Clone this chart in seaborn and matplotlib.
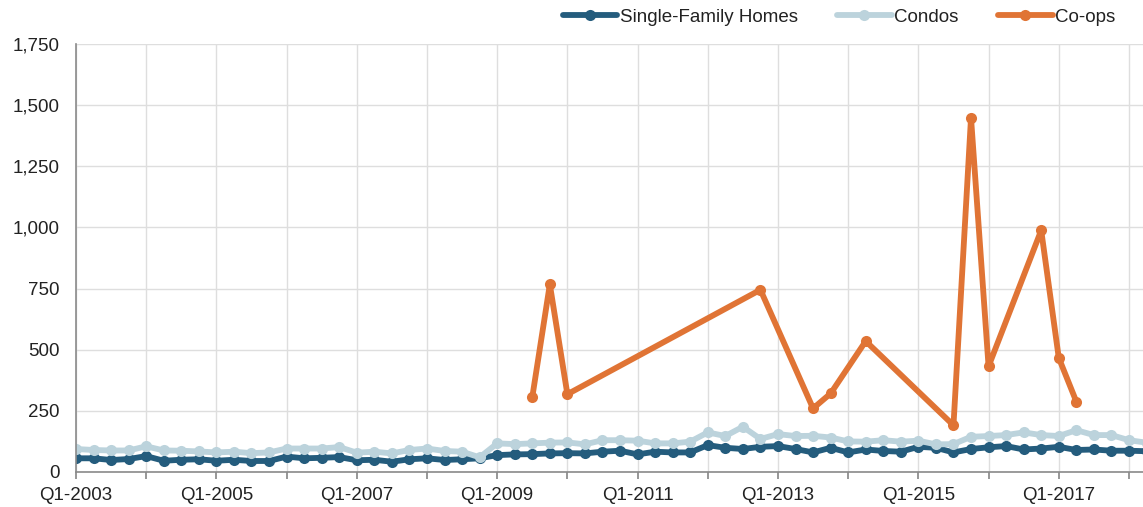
import numpy as np
import pandas as pd
import seaborn as sns
import matplotlib.pyplot as plt

sns.set_theme(style="white")
plt.rcParams['font.family'] = ['Liberation Sans', 'DejaVu Sans']

# quarters Q1-2003 .. Q2-2018
quarters = [f"Q{q}-{y}" for y in range(2003, 2019) for q in range(1, 5)][:62]

single_family = [56, 56, 49, 53, 65, 46, 50, 52, 46, 50, 45, 45, 63, 56, 58, 61,
                 48, 50, 42, 52, 56, 49, 52, 56, 69, 72, 73, 76, 77, 76, 83, 87,
                 72, 83, 80, 80, 110, 99, 94, 103, 106, 94, 80, 99, 80, 92, 86, 83,
                 103, 99, 80, 94, 101, 106, 92, 96, 103, 90, 92, 87, 87, 85]

condos = [94, 90, 88, 88, 105, 88, 87, 84, 80, 83, 77, 80, 96, 96, 96, 102,
          79, 83, 76, 90, 96, 86, 83, 60, 117, 114, 117, 120, 121, 113, 130, 130,
          128, 117, 117, 124, 162, 147, 185, 135, 155, 147, 148, 141, 125, 124, 130, 124,
          128, 113, 114, 144, 147, 151, 162, 151, 147, 171, 151, 151, 130, 120]

# co-ops only reported in some quarters
coops_quarters = ["Q3-2009", "Q4-2009", "Q1-2010", "Q4-2012", "Q3-2013", "Q4-2013",
                  "Q2-2014", "Q3-2015", "Q4-2015", "Q1-2016", "Q4-2016", "Q1-2017", "Q2-2017"]
coops = [306, 767, 318, 745, 260, 321, 535, 191, 1448, 432, 988, 467, 288]

df = pd.DataFrame({"idx": range(len(quarters)), "quarter": quarters,
                   "Single-Family Homes": single_family, "Condos": condos})
co = pd.DataFrame({"quarter": coops_quarters, "Co-ops": coops})
co["idx"] = co["quarter"].map({q: i for i, q in enumerate(quarters)})

colors = {"Single-Family Homes": "#245c7d", "Condos": "#bcd3dc", "Co-ops": "#e07435"}

fig = plt.figure(figsize=(11.43, 5.07), dpi=100)
ax = fig.add_axes([76 / 1143, 35 / 507, 1 - 76 / 1143, (472 - 44) / 507])

for name, d in [("Single-Family Homes", df), ("Condos", df), ("Co-ops", co)]:
    sns.lineplot(data=d, x="idx", y=name, ax=ax, color=colors[name], label=name,
                 linewidth=4.2, marker="o", markersize=8, markeredgewidth=0,
                 solid_joinstyle="round", solid_capstyle="round")

ax.set_xlim(0, 60.8)
ax.set_ylim(0, 1750)
ax.set_yticks(np.arange(0, 1751, 250))
ax.set_yticklabels([f"{v:,}" for v in range(0, 1751, 250)])
xt = list(range(0, 61, 4))
ax.set_xticks(xt)
ax.set_xticklabels([quarters[i] if i % 8 == 0 else "" for i in xt])
ax.set_xlabel("")
ax.set_ylabel("")

ax.grid(True, color="#dedede", linewidth=1)
ax.set_axisbelow(True)
for s in ["top", "right"]:
    ax.spines[s].set_visible(False)
for s in ["left", "bottom"]:
    ax.spines[s].set_color("#8a8a8a")
    ax.spines[s].set_linewidth(1.2)
ax.tick_params(axis="x", bottom=True, length=5, color="#8a8a8a", labelsize=13.5,
               labelcolor="#222222", pad=6)
ax.tick_params(axis="y", left=False, length=0, labelsize=13.5, labelcolor="#222222", pad=12)

ax.legend(loc="center right", bbox_to_anchor=(1125 / 1143, 1 - 17 / 507),
          bbox_transform=fig.transFigure, ncol=3, frameon=False, fontsize=13.5,
          handlelength=2.9, handletextpad=0.15, columnspacing=2.1, borderpad=0,
          labelcolor="#222222")

plt.savefig("out.png", dpi=100)
